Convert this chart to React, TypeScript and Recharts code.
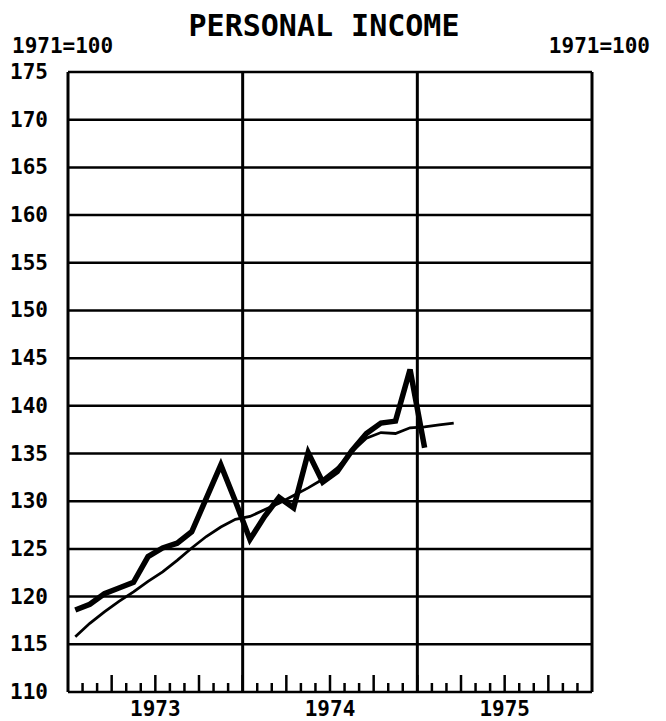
import React from 'react';
import { LineChart, Line, XAxis, YAxis, ReferenceLine } from 'recharts';

// monthly values, Jan 1973 onward (index = months since Jan 1973)
const yearLabels = ['1973', '1974', '1975'];
const actualIncome = [
  118.6, 119.2, 120.3, 120.9, 121.5, 124.2, 125.1, 125.6, 126.8, 130.3, 133.8, 130.0,
  126.0, 128.4, 130.4, 129.3, 135.1, 132.0, 133.1, 135.3, 137.1, 138.2, 138.4, 143.8,
  135.6,
];
const trendIncome = [
  115.8, 117.2, 118.4, 119.5, 120.5, 121.6, 122.6, 123.8, 125.1, 126.3, 127.3, 128.1,
  128.4, 129.1, 129.8, 130.6, 131.4, 132.3, 133.5, 135.2, 136.6, 137.2, 137.1, 137.7,
  137.8, 138.0, 138.2,
];
const yTicks = [110, 115, 120, 125, 130, 135, 140, 145, 150, 155, 160, 165, 170, 175];
const monthTicks = Array.from({ length: 35 }, (_, i) => i + 1);
const yearBreaks = [0, 12, 24, 36];

const FONT = '"DejaVu Sans Mono", "Liberation Mono", monospace';

const chartData = trendIncome.map((t, i) => ({
  month: i + 0.5,
  actual: i < actualIncome.length ? actualIncome[i] : null,
  trend: t,
}));

const YTick = ({ x, y, payload, textAnchor }: any) => (
  <text x={x} y={y} dy={7} textAnchor={textAnchor} fontFamily={FONT} fontWeight="bold" fontSize={21} fill="#000">
    {payload.value}
  </text>
);

// month tick marks point up into the plot; quarters are taller, year name under mid-year
const MonthTick = ({ x, y, payload }: any) => {
  const v = payload.value;
  const len = v % 3 === 0 ? 17 : 9;
  return (
    <g>
      <line x1={x} x2={x} y1={y} y2={y - len} stroke="#000" strokeWidth={2.5} />
      {v % 12 === 6 && (
        <text x={x} y={y} dy={24} textAnchor="middle" fontFamily={FONT} fontWeight="bold" fontSize={21} fill="#000">
          {yearLabels[(v - 6) / 12]}
        </text>
      )}
    </g>
  );
};

const App = () => {
  return (
    <div style={{ position: 'absolute', left: 0, top: 0, width: 666, height: 721, background: '#fff' }}>
      <LineChart
        width={666}
        height={721}
        data={chartData}
        margin={{ top: 72, right: 0, bottom: 0, left: 0 }}
      >
        <text x={324} y={36} textAnchor="middle" fontFamily={FONT} fontWeight="bold" fontSize={30} fill="#000">
          PERSONAL INCOME
        </text>
        <text x={12} y={53} fontFamily={FONT} fontWeight="bold" fontSize={21} fill="#000">
          1971=100
        </text>
        <text x={650} y={53} textAnchor="end" fontFamily={FONT} fontWeight="bold" fontSize={21} fill="#000">
          1971=100
        </text>

        <XAxis
          dataKey="month"
          type="number"
          domain={[0, 36]}
          ticks={monthTicks}
          interval={0}
          height={29}
          axisLine={false}
          tickLine={false}
          tickSize={0}
          tickMargin={0}
          tick={<MonthTick />}
        />
        <YAxis
          yAxisId="left"
          domain={[110, 175]}
          ticks={yTicks}
          width={68}
          axisLine={false}
          tickLine={false}
          tickSize={0}
          tickMargin={20}
          tick={<YTick />}
        />
        <YAxis
          yAxisId="right"
          orientation="right"
          domain={[110, 175]}
          ticks={yTicks}
          width={74}
          axisLine={false}
          tickLine={false}
          tickSize={0}
          tickMargin={21}
          tick={<YTick />}
        />

        {/* horizontal rules every 5 points */}
        {yTicks.map((t) => (
          <ReferenceLine key={'h' + t} y={t} yAxisId="left" stroke="#000" strokeWidth={2.5} />
        ))}
        {/* year dividers and side borders */}
        {yearBreaks.map((b) => (
          <ReferenceLine key={'v' + b} x={b} yAxisId="left" stroke="#000" strokeWidth={3} />
        ))}

        <Line
          yAxisId="left"
          type="linear"
          dataKey="trend"
          stroke="#000"
          strokeWidth={2.8}
          dot={false}
          isAnimationActive={false}
        />
        <Line
          yAxisId="left"
          type="linear"
          dataKey="actual"
          stroke="#000"
          strokeWidth={5.5}
          dot={false}
          connectNulls={false}
          isAnimationActive={false}
        />
      </LineChart>
    </div>
  );
};

export default App;
